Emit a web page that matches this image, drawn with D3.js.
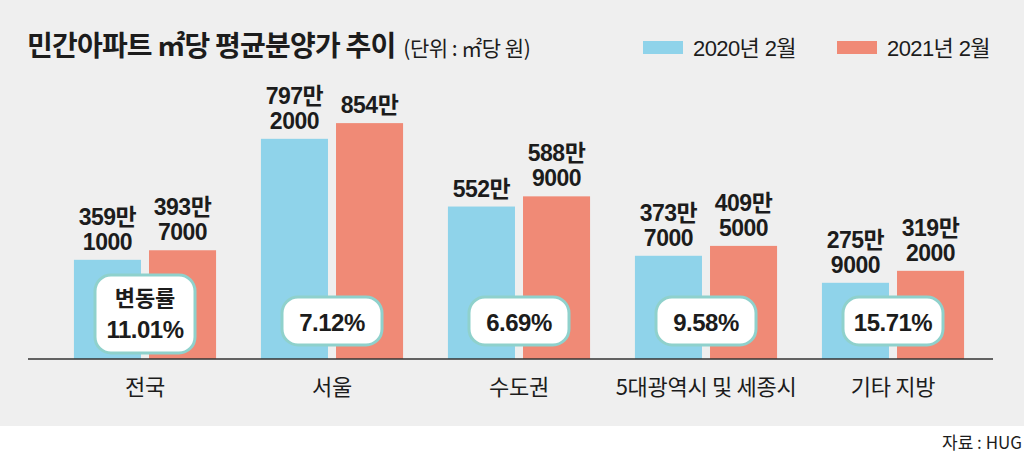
<!DOCTYPE html>
<html>
<head>
<meta charset="utf-8">
<script src="https://cdn.jsdelivr.net/npm/d3@7"></script>
<style>
  html, body { margin: 0; padding: 0; background: #ffffff; }
  svg { display: block; }
  text { font-family: "Liberation Sans", "Noto Sans CJK KR", sans-serif; fill: #1c1c1c; }
  .kr { font-family: "Noto Sans CJK KR", sans-serif; }
</style>
</head>
<body>
<svg id="chart" width="1024" height="454"></svg>
<script>
// values in 만원 per ㎡
const categories = ['전국', '서울', '수도권', '5대광역시 및 세종시', '기타 지방'];
const series = ['2020년 2월', '2021년 2월'];
const v2020 = [359.1, 797.2, 552.0, 373.7, 275.9];
const v2021 = [393.7, 854.0, 588.9, 409.5, 319.2];
const rateHead = ['변동률', '', '', '', ''];
const rates = ['11.01%', '7.12%', '6.69%', '9.58%', '15.71%'];

const colors = ['#8fd3ea', '#f08a76'];
const W = 1024, H = 454;
const baseY = 359;

const svg = d3.select('#chart');

// background panel
svg.append('rect').attr('x', 0).attr('y', 0).attr('width', W).attr('height', 426).attr('fill', '#efefef');

const x0 = d3.scaleBand()
    .domain(categories)
    .range([51.5, 986.5])
    .paddingInner(0.24)
    .paddingOuter(0.12);

const x1 = d3.scaleBand()
    .domain(series)
    .range([0, x0.bandwidth()])
    .paddingInner(0.107);

const y = d3.scaleLinear()
    .domain([0, 1000])
    .range([baseY, baseY - 276.2]);

const rows = categories.map((c, i) => ({
    cat: c,
    vals: [v2020[i], v2021[i]],
    head: rateHead[i],
    rate: rates[i]
}));

const g = svg.selectAll('g.grp')
    .data(rows)
    .enter()
    .append('g')
    .attr('class', 'grp')
    .attr('transform', d => `translate(${x0(d.cat)},0)`);

const bar = g.selectAll('g.bar')
    .data(d => d.vals.map((v, j) => ({ s: series[j], v: v, j: j })))
    .enter()
    .append('g')
    .attr('class', 'bar');

bar.append('rect')
    .attr('x', d => x1(d.s))
    .attr('y', d => y(d.v))
    .attr('width', x1.bandwidth())
    .attr('height', d => baseY - y(d.v))
    .attr('fill', d => colors[d.j]);

// value labels: "359만" / "1000"
bar.append('text')
    .attr('text-anchor', 'middle')
    .attr('font-size', 23)
    .attr('font-weight', 'bold')
    .attr('letter-spacing', -0.5)
    .each(function (d) {
        const man = Math.floor(d.v);
        const rest = Math.round((d.v - man) * 10000);
        const lines = rest > 0 ? [man + '만', String(rest)] : [man + '만'];
        const cx = x1(d.s) + x1.bandwidth() / 2;
        const last = y(d.v) - 10;
        d3.select(this).selectAll('tspan')
            .data(lines)
            .enter()
            .append('tspan')
            .attr('x', cx)
            .attr('y', (t, k) => last - (lines.length - 1 - k) * 25)
            .text(t => t);
    });

// rate badges
const badge = g.append('g')
    .attr('transform', `translate(${x0.bandwidth() / 2},0)`);

badge.append('rect')
    .attr('x', -50)
    .attr('width', 100)
    .attr('y', d => d.head ? 275 : 297)
    .attr('height', d => d.head ? 78 : 48)
    .attr('rx', 16)
    .attr('fill', '#ffffff')
    .attr('stroke', '#8fd1cc')
    .attr('stroke-width', 3);

badge.filter(d => d.head)
    .append('text')
    .attr('class', 'kr')
    .attr('text-anchor', 'middle')
    .attr('y', 306)
    .attr('font-size', 22)
    .attr('font-weight', 'bold')
    .text(d => d.head);

badge.append('text')
    .attr('text-anchor', 'middle')
    .attr('y', d => d.head ? 338 : 331)
    .attr('font-size', 24)
    .attr('font-weight', 'bold')
    .attr('letter-spacing', -0.5)
    .text(d => d.rate);

// baseline
svg.append('line')
    .attr('x1', 28).attr('x2', 993)
    .attr('y1', baseY).attr('y2', baseY)
    .attr('stroke', '#333333')
    .attr('stroke-width', 1.5);

// category labels
svg.append('g')
    .selectAll('text')
    .data(categories)
    .enter()
    .append('text')
    .attr('class', 'kr')
    .attr('x', d => x0(d) + x0.bandwidth() / 2)
    .attr('y', 395)
    .attr('text-anchor', 'middle')
    .attr('font-size', 22)
    .attr('letter-spacing', -0.3)
    .text(d => d);

// title
const title = svg.append('text')
    .attr('class', 'kr')
    .attr('x', 27)
    .attr('y', 56);
title.append('tspan')
    .attr('font-size', 28)
    .attr('font-weight', 'bold')
    .attr('letter-spacing', -0.8)
    .text('민간아파트 ㎡당 평균분양가 추이');
title.append('tspan')
    .attr('font-size', 21)
    .attr('dx', 8)
    .attr('letter-spacing', -0.5)
    .text('(단위 : ㎡당 원)');

// legend
const leg = svg.append('g')
    .selectAll('g')
    .data(series)
    .enter()
    .append('g')
    .attr('transform', (d, i) => `translate(${643 + i * 194},0)`);
leg.append('rect')
    .attr('x', 0).attr('y', 41)
    .attr('width', 40).attr('height', 13)
    .attr('fill', (d, i) => colors[i]);
leg.append('text')
    .attr('x', 50).attr('y', 56)
    .attr('font-size', 22)
    .attr('letter-spacing', -0.6)
    .text(d => d);

// source
svg.append('text')
    .attr('class', 'kr')
    .attr('x', 1022)
    .attr('y', 449)
    .attr('text-anchor', 'end')
    .attr('font-size', 17)
    .text('자료 : HUG');
</script>
</body>
</html>
